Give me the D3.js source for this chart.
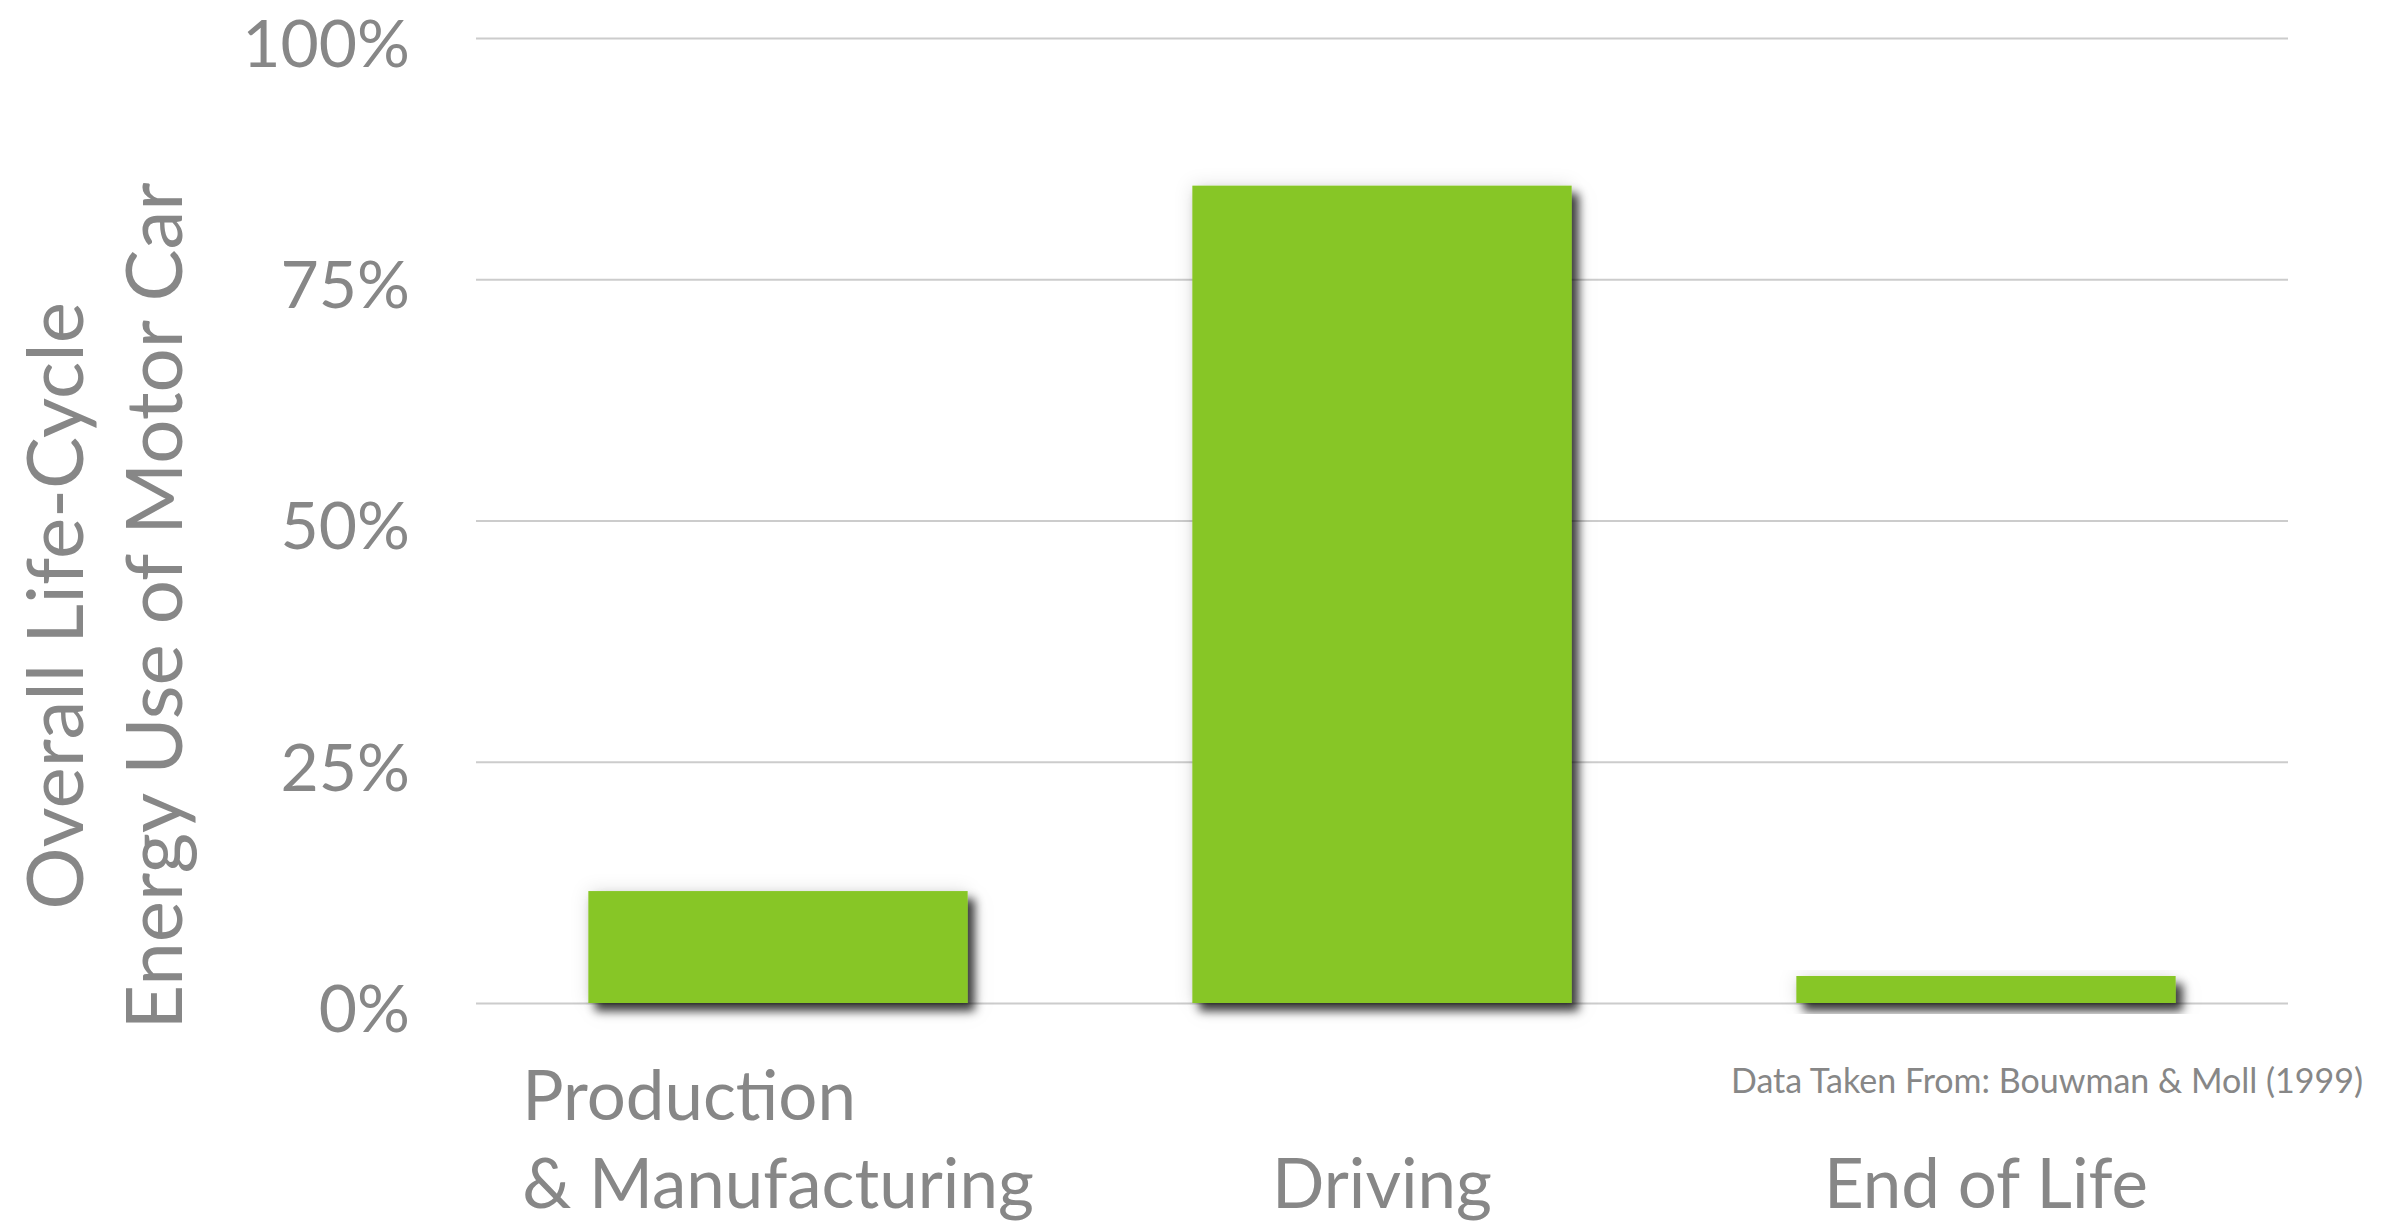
<!DOCTYPE html>
<html>
<head>
<meta charset="utf-8">
<script src="https://cdn.jsdelivr.net/npm/d3@7"></script>
<style>
  html, body { margin: 0; padding: 0; background: #ffffff; }
  svg { display: block; }
  text { font-family: Lato, "Open Sans", sans-serif; fill: #878787; }
</style>
</head>
<body>
<svg id="chart" width="2384" height="1223"></svg>
<script>
// Life-cycle energy use shares of a motor car
const categories = ["Production\n& Manufacturing", "Driving", "End of Life"];
const shares = [0.116, 0.847, 0.028];
const tickValues = [0, 0.25, 0.5, 0.75, 1];
const tickLabels = ["0%", "25%", "50%", "75%", "100%"];
const axisTitle = ["Overall Life-Cycle", "Energy Use of Motor Car"];
const sourceNote = "Data Taken From: Bouwman & Moll (1999)";

const svg = d3.select("#chart");

const x = d3.scaleBand()
  .domain(categories)
  .range([476, 2288])
  .paddingInner(0.372)
  .paddingOuter(0.186);

const y = d3.scaleLinear().domain([0, 1]).range([1003, 38]);

// drop shadow for the bars
const defs = svg.append("defs");
const f = defs.append("filter").attr("id", "shadow")
  .attr("x", "-20%").attr("y", "-20%").attr("width", "140%").attr("height", "160%");
f.append("feDropShadow").attr("dx", 0).attr("dy", 0).attr("stdDeviation", 9)
  .attr("flood-color", "#000").attr("flood-opacity", 0.12);
f.append("feDropShadow").attr("dx", 7).attr("dy", 8).attr("stdDeviation", 5)
  .attr("flood-color", "#000").attr("flood-opacity", 0.75);

// horizontal gridlines
const grid = d3.axisLeft(y)
  .tickValues(tickValues)
  .tickSize(-(x.range()[1] - x.range()[0]))
  .tickFormat("");
const gridG = svg.append("g")
  .attr("transform", `translate(${x.range()[0]},0)`)
  .call(grid);
gridG.select(".domain").remove();
gridG.selectAll(".tick line").attr("stroke", "#cccccc").attr("stroke-width", 2);

// y tick labels
const yAxis = d3.axisLeft(y)
  .tickValues(tickValues)
  .tickSize(0)
  .tickPadding(0)
  .tickFormat((d, i) => tickLabels[i]);
const yG = svg.append("g")
  .attr("transform", "translate(410,0)")
  .call(yAxis);
yG.select(".domain").remove();
yG.selectAll(".tick text")
  .attr("fill", "#878787")
  .style("font-size", "66px")
  .attr("dy", "0.43em")
  .attr("font-family", null);

// bars
svg.append("g").selectAll("rect")
  .data(categories)
  .join("rect")
  .attr("x", d => x(d))
  .attr("width", x.bandwidth())
  .attr("y", (d, i) => y(shares[i]))
  .attr("height", (d, i) => y(0) - y(shares[i]))
  .attr("fill", "#87c627")
  .attr("filter", "url(#shadow)");

// category labels: line blocks are left-aligned and centred on the band
const lineGap = 88;
const baseLast = 1208;
const catG = svg.append("g");
categories.forEach(c => {
  const lines = c.split("\n");
  const cx = x(c) + x.bandwidth() / 2;
  const t = catG.append("text").style("font-size", "69px");
  lines.forEach((ln, j) => {
    t.append("tspan")
      .attr("x", cx)
      .attr("y", baseLast - (lines.length - 1 - j) * lineGap)
      .text(ln);
  });
  // widest line sets the block width
  const tsp = t.selectAll("tspan").nodes();
  const wMax = d3.max(tsp, n => n.getComputedTextLength());
  t.selectAll("tspan").attr("x", cx - wMax / 2);
});

// rotated y-axis title
const titleCenter = 606;
const titleBaselines = [83, 182];
axisTitle.forEach((ln, j) => {
  svg.append("text")
    .attr("transform", `translate(${titleBaselines[j]},${titleCenter}) rotate(-90)`)
    .attr("text-anchor", "middle")
    .style("font-size", "78px")
    .text(ln);
});

// source note
svg.append("text")
  .attr("x", 2363)
  .attr("y", 1093)
  .attr("text-anchor", "end")
  .style("font-size", "34px")
  .text(sourceNote);
</script>
</body>
</html>
